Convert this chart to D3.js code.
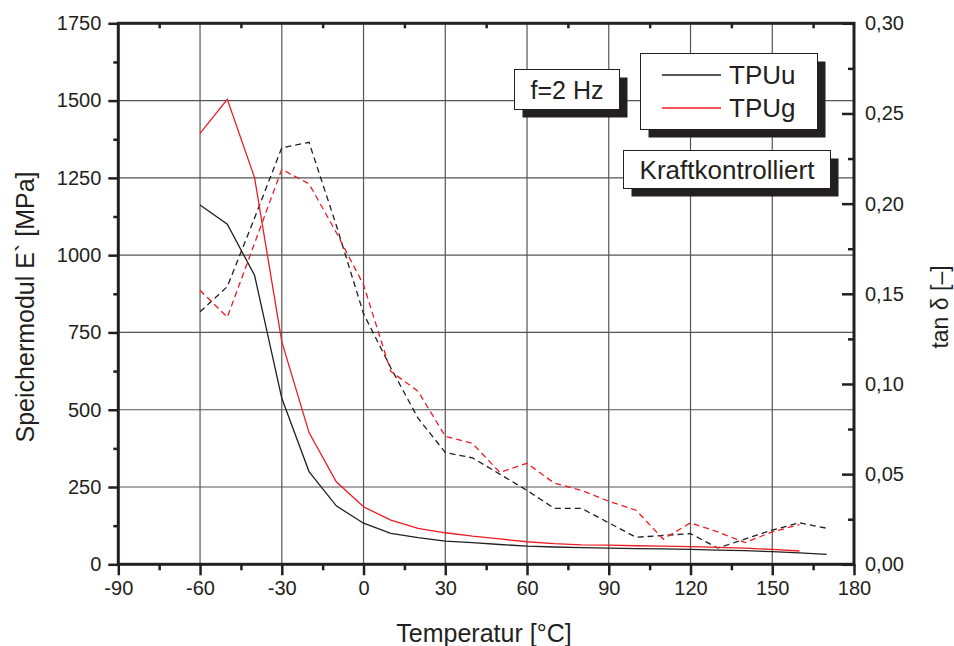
<!DOCTYPE html>
<html>
<head>
<meta charset="utf-8">
<script src="https://cdn.jsdelivr.net/npm/d3@7"></script>
<style>
  body { margin: 0; background: #fff; }
  text { font-family: "Liberation Sans", Arial, sans-serif; fill: #231f20; }
</style>
</head>
<body>
<script>
// temperature steps [°C]
var temps = [-60,-50,-40,-30,-20,-10,0,10,20,30,40,50,60,70,80,90,100,110,120,130,140,150,160,170];

// Speichermodul E' [MPa]
var eTPUu = [1162,1100,935,537,300,189,133,100,86,75,70,64,59,56,54,52,51,50,48,46,44,41,37,32];
var eTPUg = [1394,1504,1251,720,426,267,186,143,116,102,91,82,73,67,63,62,60,59,57,55,52,48,43];

// tan delta [-]
var tanTPUu = [0.140,0.154,0.192,0.231,0.234,0.188,0.139,0.109,0.081,0.062,0.059,0.050,0.041,0.031,0.031,0.023,0.015,0.016,0.017,0.009,0.014,0.019,0.023,0.020];
var tanTPUg = [0.152,0.137,0.178,0.219,0.211,0.184,0.155,0.107,0.096,0.071,0.067,0.051,0.056,0.045,0.041,0.035,0.030,0.014,0.023,0.018,0.012,0.018,0.022];

var xTicks = [-90,-60,-30,0,30,60,90,120,150,180];
var eTicks = [0,250,500,750,1000,1250,1500,1750];
var tanTicks = [0,0.05,0.10,0.15,0.20,0.25,0.30];

var Width = 954, Height = 646;
var pLeft = 118.3, pRight = 854, pTop = 23.3, pBottom = 564.3;
var ink = "#231f20", red = "#ed1c24";

var svg = d3.select("body").append("svg")
	.attr("width", Width)
	.attr("height", Height);

var x = d3.scaleLinear().domain([-90,180]).range([pLeft,pRight]);
var yE = d3.scaleLinear().domain([0,1750]).range([pBottom,pTop]);
var yT = d3.scaleLinear().domain([0,0.30]).range([pBottom,pTop]);

// grid
svg.append("g").selectAll("line").data(xTicks.slice(1,-1)).enter().append("line")
	.attr("x1", d => x(d)).attr("x2", d => x(d))
	.attr("y1", pTop).attr("y2", pBottom)
	.attr("stroke", "#555").attr("stroke-width", 1.2);
svg.append("g").selectAll("line").data(eTicks.slice(1,-1)).enter().append("line")
	.attr("x1", pLeft).attr("x2", pRight)
	.attr("y1", d => yE(d)).attr("y2", d => yE(d))
	.attr("stroke", "#555").attr("stroke-width", 1.2);

// minor tick values
var xMinor = d3.range(-75, 180, 30);
var eMinor = d3.range(125, 1750, 250);
var tanMinor = d3.range(0.025, 0.3, 0.05);

function tickStyle(sel) {
	sel.selectAll(".domain").remove();
	sel.selectAll("line").attr("stroke", ink).attr("stroke-width", 2.5);
	sel.selectAll("text").attr("font-size", "20px").style("fill", ink)
		.style("font-family", "'Liberation Sans', Arial, sans-serif");
}

// bottom axis
svg.append("g").attr("transform", "translate(0," + pBottom + ")")
	.call(d3.axisBottom(x).tickValues(xTicks).tickSize(11).tickPadding(6).tickFormat(d => String(d)))
	.call(tickStyle);
svg.append("g").attr("transform", "translate(0," + pBottom + ")")
	.call(d3.axisBottom(x).tickValues(xMinor).tickSize(6).tickFormat(""))
	.call(tickStyle);
// top axis, inner ticks
svg.append("g").attr("transform", "translate(0," + pTop + ")")
	.call(d3.axisBottom(x).tickValues(xMinor).tickSize(5).tickFormat(""))
	.call(tickStyle);

// left axis
svg.append("g").attr("transform", "translate(" + pLeft + ",0)")
	.call(d3.axisLeft(yE).tickValues(eTicks).tickSize(10).tickPadding(7).tickFormat(d => String(d)))
	.call(tickStyle);
svg.append("g").attr("transform", "translate(" + pLeft + ",0)")
	.call(d3.axisLeft(yE).tickValues(eMinor).tickSize(5).tickFormat(""))
	.call(tickStyle);

// right axis, ticks point inward
var fmtTan = v => d3.format(".2f")(v).replace(".", ",");
var rAx = svg.append("g").attr("transform", "translate(" + pRight + ",0)")
	.call(d3.axisLeft(yT).tickValues(tanTicks).tickSize(12).tickFormat(fmtTan))
	.call(tickStyle);
rAx.selectAll("text").attr("text-anchor", "start").attr("x", 11);
svg.append("g").attr("transform", "translate(" + pRight + ",0)")
	.call(d3.axisLeft(yT).tickValues(tanMinor).tickSize(6).tickFormat(""))
	.call(tickStyle);

// frame
svg.append("rect")
	.attr("x", pLeft).attr("y", pTop)
	.attr("width", pRight - pLeft).attr("height", pBottom - pTop)
	.attr("fill", "none").attr("stroke", ink).attr("stroke-width", 3);

// curves
var lineE = d3.line().x((d,i) => x(temps[i])).y(d => yE(d));
var lineT = d3.line().x((d,i) => x(temps[i])).y(d => yT(d));

svg.append("path").datum(tanTPUu).attr("d", lineT)
	.attr("fill", "none").attr("stroke", ink).attr("stroke-width", 1.3).attr("stroke-dasharray", "6,4");
svg.append("path").datum(tanTPUg).attr("d", lineT)
	.attr("fill", "none").attr("stroke", red).attr("stroke-width", 1.3).attr("stroke-dasharray", "6,4");
svg.append("path").datum(eTPUu).attr("d", lineE)
	.attr("fill", "none").attr("stroke", ink).attr("stroke-width", 1.3);
svg.append("path").datum(eTPUg).attr("d", lineE)
	.attr("fill", "none").attr("stroke", red).attr("stroke-width", 1.3);

// boxes with drop shadow
function box(x0, y0, w, h) {
	svg.append("rect").attr("x", x0 + 8).attr("y", y0 + 8).attr("width", w).attr("height", h).attr("fill", ink);
	svg.append("rect").attr("x", x0).attr("y", y0).attr("width", w).attr("height", h)
		.attr("fill", "#fff").attr("stroke", ink).attr("stroke-width", 1);
}

box(514.5, 69.5, 105, 40);
svg.append("text").attr("x", 567).attr("y", 98.5).attr("text-anchor", "middle")
	.attr("font-size", "25px").text("f=2 Hz");

box(640.5, 53.5, 177, 76);
var legend = [["TPUu", ink], ["TPUg", red]];
legend.forEach(function(l, i) {
	var ly = 75 + i * 33;
	svg.append("line").attr("x1", 662).attr("x2", 721).attr("y1", ly).attr("y2", ly)
		.attr("stroke", l[1]).attr("stroke-width", 1.3);
	svg.append("text").attr("x", 729).attr("y", ly + 9).attr("font-size", "26px").text(l[0]);
});

box(623.5, 150.5, 207, 38);
svg.append("text").attr("x", 727).attr("y", 179).attr("text-anchor", "middle")
	.attr("font-size", "26px").text("Kraftkontrolliert");

// axis titles
svg.append("text").attr("x", 484).attr("y", 642).attr("text-anchor", "middle")
	.attr("font-size", "25px").text("Temperatur [°C]");
svg.append("text").attr("transform", "translate(34,307) rotate(-90)").attr("text-anchor", "middle")
	.attr("font-size", "25px").text("Speichermodul E` [MPa]");
svg.append("text").attr("transform", "translate(948,307) rotate(-90)").attr("text-anchor", "middle")
	.attr("font-size", "23px").text("tan δ [–]");
</script>
</body>
</html>
